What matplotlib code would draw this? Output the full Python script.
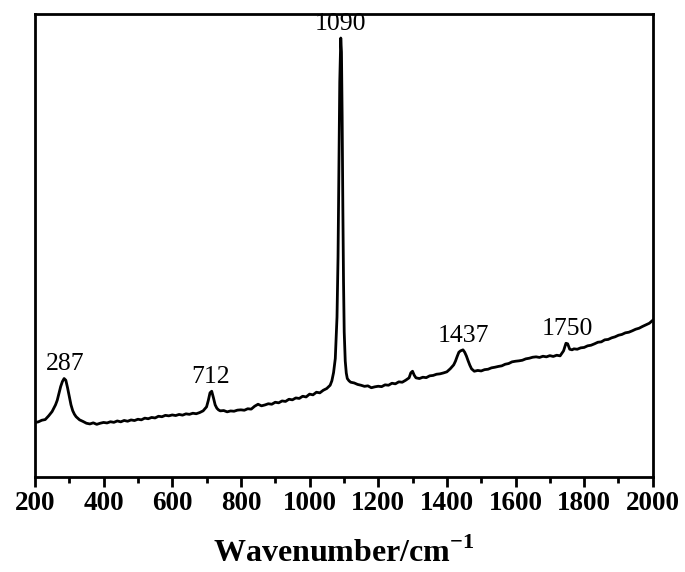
import numpy as np
import matplotlib
matplotlib.use("Agg")
import matplotlib.pyplot as plt
from matplotlib.ticker import MultipleLocator

# Spectre Raman (intensité en u.a.)
wavenumber = [
    200, 210, 220, 230, 240, 250, 260, 265, 270, 275, 280, 285, 290, 295, 300,
    305, 310, 315, 320, 330, 340, 350, 360, 370, 380, 390, 400, 410, 420, 430,
    440, 450, 460, 470, 480, 490, 500, 510, 520, 530, 540, 550, 560, 570, 580,
    590, 600, 610, 620, 630, 640, 650, 660, 670, 680, 690, 700, 705, 710, 715,
    720, 725, 730, 735, 740, 750, 760, 770, 780, 790, 800, 810, 820, 830, 840,
    850, 860, 870, 880, 890, 900, 910, 920, 930, 940, 950, 960, 970, 980, 990,
    1000, 1010, 1020, 1030, 1040, 1050, 1060, 1065, 1070, 1075, 1080, 1083,
    1086, 1088, 1091, 1093, 1095, 1097, 1099, 1101, 1104, 1107, 1110, 1115,
    1120, 1130, 1140, 1150, 1160, 1170, 1180, 1190, 1200, 1210, 1220, 1230,
    1240, 1250, 1260, 1270, 1280, 1290, 1295, 1300, 1305, 1310, 1320, 1330,
    1340, 1350, 1360, 1370, 1380, 1390, 1400, 1410, 1420, 1425, 1430, 1435,
    1440, 1447, 1452, 1457, 1462, 1467, 1472, 1480, 1490, 1500, 1510, 1520,
    1530, 1540, 1550, 1560, 1570, 1580, 1590, 1600, 1610, 1620, 1630, 1640,
    1650, 1660, 1670, 1680, 1690, 1700, 1710, 1720, 1730, 1740, 1747, 1752,
    1758, 1765, 1770, 1780, 1790, 1800, 1810, 1820, 1830, 1840, 1850, 1860,
    1870, 1880, 1890, 1900, 1910, 1920, 1930, 1940, 1950, 1960, 1970, 1980,
    1990, 2000,
]
intensity = [
    545, 552, 568, 575, 612, 655, 722, 768, 835, 905, 955, 985, 968, 893, 805,
    722, 664, 628, 603, 572, 556, 538, 531, 542, 527, 538, 546, 541, 553, 547,
    561, 552, 566, 558, 571, 565, 578, 572, 589, 583, 596, 591, 608, 603, 617,
    612, 621, 615, 626, 619, 632, 627, 638, 633, 645, 662, 702, 765, 842, 858,
    793, 722, 688, 671, 662, 665, 652, 661, 658, 669, 672, 668, 683, 679, 708,
    728, 712, 721, 733, 728, 748, 742, 761, 756, 778, 772, 791, 786, 808, 801,
    829, 822, 848, 842, 868, 885, 918, 962, 1045, 1185, 1600, 2200,
    3200, 3950, 4390, 4250, 3600, 2700, 1950, 1450, 1160, 1040, 985, 962,
    948, 941, 926, 918, 907, 912, 893, 902, 908, 904, 922, 918,
    938, 932, 952, 948, 968, 992, 1042, 1058, 1018, 992, 985, 998,
    994, 1012, 1016, 1028, 1032, 1041, 1052, 1083, 1122, 1158, 1205, 1248,
    1262, 1272, 1248, 1210, 1162, 1118, 1082, 1058, 1066, 1061, 1074, 1078,
    1092, 1098, 1106, 1112, 1128, 1135, 1152, 1158, 1162, 1168, 1182, 1188,
    1198, 1202, 1196, 1208, 1202, 1214, 1206, 1218, 1212, 1262, 1338, 1332,
    1278, 1272, 1282, 1278, 1292, 1296, 1312, 1318, 1332, 1348, 1352, 1372,
    1376, 1392, 1402, 1418, 1426, 1442, 1448, 1462, 1478, 1488, 1506, 1522,
    1538, 1568,
]

# Pics annotés
peak_labels = ["287", "712", "1090", "1437", "1750"]
peak_centers = [287, 712, 1090, 1447, 1750]

plt.rcParams['font.family'] = ['Liberation Serif', 'DejaVu Serif']
plt.rcParams['mathtext.fontset'] = 'custom'
plt.rcParams['mathtext.rm'] = 'Liberation Serif'
plt.rcParams['mathtext.bf'] = 'Liberation Serif:bold'

fig = plt.figure(figsize=(6.85, 5.72), dpi=100)
ax = fig.add_axes([0.051, 0.166, 0.902, 0.8095])

wn = np.array(wavenumber)
inten = np.array(intensity)
ax.plot(wn, inten, color='black', linewidth=2.0, solid_joinstyle='round')

for label, c in zip(peak_labels, peak_centers):
    mask = np.abs(wn - c) <= 15
    top = inten[mask].max()
    ax.annotate(label, xy=(c, top), xytext=(0, 6), textcoords='offset points',
                ha='center', va='baseline', fontsize=18.5)

ax.set_xlim(200, 2000)
ax.set_ylim(0, 4630)
ax.xaxis.set_major_locator(MultipleLocator(200))
ax.xaxis.set_minor_locator(MultipleLocator(100))
ax.set_yticks([])

ax.tick_params(axis='x', which='major', direction='out', length=7, width=2.0,
               pad=3, labelsize=19.5)
ax.tick_params(axis='x', which='minor', direction='out', length=4, width=2.0)
for lbl in ax.get_xticklabels():
    lbl.set_fontweight('bold')
for sp in ax.spines.values():
    sp.set_linewidth(2.0)

ax.set_xlabel(r'Wavenumber/cm$^{\mathbf{-1}}$', fontsize=23, fontweight='bold',
              labelpad=16)

plt.savefig('out.png', dpi=100)
plt.close()
